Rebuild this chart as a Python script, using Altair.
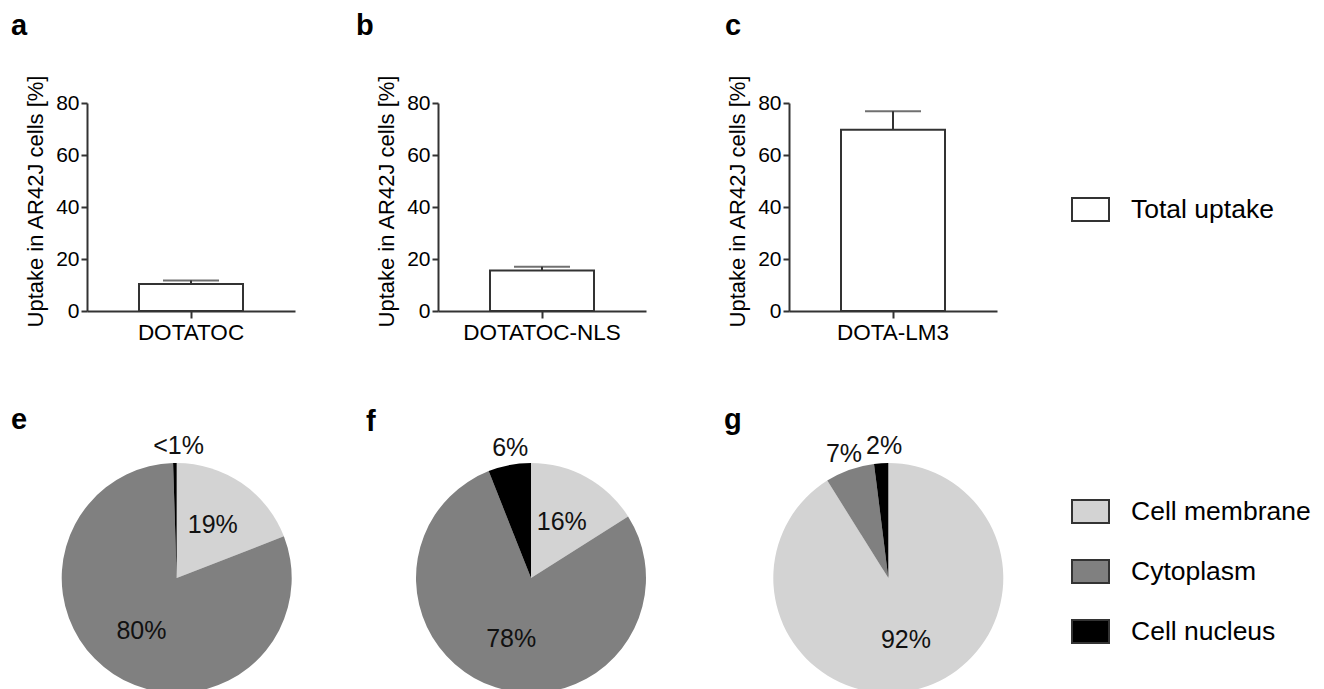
import altair as alt
import pandas as pd

FONT = "Liberation Sans"
AXIS_COLOR = "#333333"

# ---- data ----
compounds = ["DOTATOC", "DOTATOC-NLS", "DOTA-LM3"]
uptake_mean = [10.4, 15.6, 69.7]
uptake_sd = [1.3, 1.4, 7.1]
bar_letters = ["a", "b", "c"]
bar_series = ["Total uptake"]
y_ticks = [0, 20, 40, 60, 80]

fractions = ["Cell membrane", "Cytoplasm", "Cell nucleus"]
fraction_colors = ["#d3d3d3", "#808080", "#000000"]
pie_letters = ["e", "f", "g"]
pie_e = [19, 80, 0.5]
pie_f = [16, 78, 6]
pie_g = [92, 7, 2]
labels_e = ["19%", "80%", "<1%"]
labels_f = ["16%", "78%", "6%"]
labels_g = ["92%", "7%", "2%"]
pie_values = [pie_e, pie_f, pie_g]
pie_labels = [labels_e, labels_f, labels_g]

# layout tweaks (not data)
bar_letter_dx = [-76, -82, -64]
pie_widths = [179.4, 186, 198.6]
pie_letter_dx = [-76, -72, -65]
SYMBOL_RECT = "M-1,-0.62H1V0.62H-1Z"


def bar_panel(i):
    df = pd.DataFrame({
        "compound": [compounds[i]],
        "mean": [uptake_mean[i]],
        "upper": [uptake_mean[i] + uptake_sd[i]],
        "series": bar_series,
    })
    base = alt.Chart(df)
    x = alt.X("compound:N", title=None,
              scale=alt.Scale(paddingInner=0.5, paddingOuter=0.25),
              axis=alt.Axis(labelAngle=0, labelFontSize=22.5, labelPadding=3,
                            tickSize=7, tickWidth=2, domainWidth=2))
    yscale = alt.Scale(domain=[0, 80], nice=False)
    yaxis = alt.Axis(values=y_ticks, labelFontSize=21, titleFontSize=22,
                     titleFontWeight="normal", tickSize=6, tickWidth=2,
                     domainWidth=2, labelPadding=2, titlePadding=8, grid=False,
                     titleY=98)
    ytitle = "Uptake in AR42J cells [%]"
    if i == 2:
        legend = alt.Legend(orient="none", legendX=282, legendY=87,
                            symbolType=SYMBOL_RECT, symbolSize=1369,
                            symbolStrokeColor=AXIS_COLOR, symbolStrokeWidth=2,
                            labelFontSize=26.5, labelFont=FONT, labelOffset=21,
                            labelLimit=400, labelColor="black", padding=0)
    else:
        legend = None
    bars = base.mark_bar(stroke=AXIS_COLOR, strokeWidth=2).encode(
        x=x,
        y=alt.Y("mean:Q", title=ytitle, scale=yscale, axis=yaxis),
        fill=alt.Fill("series:N", title=None,
                      scale=alt.Scale(domain=bar_series, range=["#ffffff"]),
                      legend=legend),
    )
    err = base.mark_rule(color=AXIS_COLOR, strokeWidth=2).encode(
        x=x,
        y=alt.Y("mean:Q", title=ytitle, scale=yscale, axis=yaxis),
        y2="upper:Q",
    )
    cap = base.mark_tick(color=AXIS_COLOR, thickness=2, size=56).encode(
        x=x,
        y=alt.Y("upper:Q", title=ytitle, scale=yscale, axis=yaxis),
    )
    return alt.layer(bars, err, cap).properties(
        width=208, height=208,
        title=alt.TitleParams(bar_letters[i], anchor="start", frame="group",
                              dx=bar_letter_dx[i], offset=33, fontSize=29,
                              fontWeight="bold", font=FONT, color="black"),
    )


def pie_panel(i):
    vals = pie_values[i]
    labs = pie_labels[i]
    is_small = [v < 10 for v in vals]
    is_nucleus = [f == "Cell nucleus" for f in fractions]
    df = pd.DataFrame({
        "fraction": fractions,
        "value": vals,
        "order": list(range(len(fractions))),
        "inner": [l if not s else "" for s, l in zip(is_small, labs)],
        "outer": [l if s and not n else "" for s, n, l in zip(is_small, is_nucleus, labs)],
        "outer_nucleus": [l if s and n else "" for s, n, l in zip(is_small, is_nucleus, labs)],
    })
    if i == 2:
        legend = alt.Legend(orient="none", legendX=282, legendY=18,
                            symbolType=SYMBOL_RECT, symbolSize=1369,
                            symbolStrokeColor=AXIS_COLOR, symbolStrokeWidth=2,
                            labelFontSize=26.5, labelFont=FONT, labelOffset=21,
                            labelLimit=400, labelColor="black", rowPadding=25,
                            padding=0)
    else:
        legend = None
    base = alt.Chart(df).encode(
        theta=alt.Theta("value:Q", stack=True),
        order=alt.Order("order:Q"),
    )
    arcs = base.mark_arc(outerRadius=115).encode(
        color=alt.Color("fraction:N", title=None,
                        scale=alt.Scale(domain=fractions, range=fraction_colors),
                        legend=legend)
    )
    inner = base.mark_text(radius=64, fontSize=25, font=FONT, color="#111111").encode(
        text="inner:N")
    outer = base.mark_text(radius=132, fontSize=25, font=FONT, color="#111111").encode(
        text="outer:N")
    outer_n = base.mark_text(radius=132, dx=4, fontSize=25, font=FONT,
                             color="#111111").encode(text="outer_nucleus:N")
    return alt.layer(arcs, inner, outer, outer_n).properties(
        width=pie_widths[i], height=208,
        title=alt.TitleParams(pie_letters[i], anchor="start", frame="group",
                              dx=pie_letter_dx[i], offset=-1, fontSize=29,
                              fontWeight="bold", font=FONT, color="black"),
    )


panels = [bar_panel(i) for i in range(3)] + [pie_panel(i) for i in range(3)]

chart = alt.concat(
    *panels, columns=3, bounds="flush", spacing={"row": 163, "column": 143}
).resolve_scale(
    theta="independent", color="independent", fill="independent"
).properties(
    padding={"left": 2, "top": 3, "right": 5, "bottom": 5}
).configure(font=FONT).configure_view(stroke="transparent").configure_axis(
    labelFont=FONT, titleFont=FONT, labelColor="black", titleColor="black",
    domainColor=AXIS_COLOR, tickColor=AXIS_COLOR, grid=False
).configure_legend(labelFont=FONT)

chart.save("out.html", embed_options={"renderer": "svg", "actions": False})
